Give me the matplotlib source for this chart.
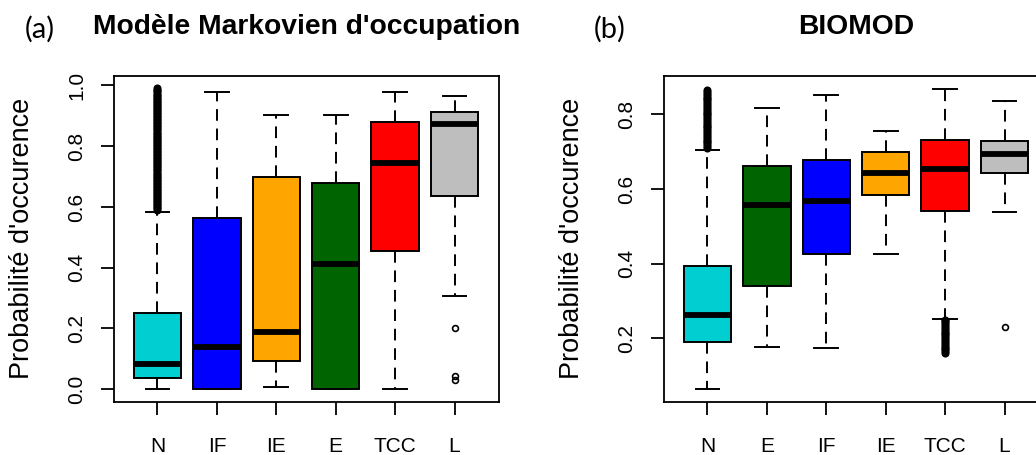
import matplotlib
matplotlib.use('Agg')
import matplotlib.pyplot as plt

# ---- data ----
cats_a = ['N', 'IF', 'IE', 'E', 'TCC', 'L']
q1_a = [0.037, 0.0, 0.092, 0.0, 0.455, 0.635]
med_a = [0.084, 0.139, 0.188, 0.413, 0.746, 0.872]
q3_a = [0.252, 0.563, 0.698, 0.678, 0.879, 0.912]
wlo_a = [0.0, 0.0, 0.008, 0.0, 0.0, 0.307]
whi_a = [0.585, 0.977, 0.904, 0.904, 0.977, 0.964]
out_a = [
    [0.590, 0.595, 0.600, 0.605, 0.610, 0.615, 0.620, 0.625, 0.630, 0.635,
     0.640, 0.645, 0.650, 0.655, 0.660, 0.665, 0.670, 0.675, 0.680, 0.685,
     0.690, 0.695, 0.700, 0.705, 0.710, 0.715, 0.720, 0.725, 0.730, 0.735,
     0.740, 0.745, 0.750, 0.755, 0.760, 0.765, 0.770, 0.775, 0.780, 0.785,
     0.790, 0.795, 0.800, 0.805, 0.810, 0.815, 0.820, 0.825, 0.830, 0.835,
     0.840, 0.845, 0.850, 0.855, 0.860, 0.865, 0.870, 0.875, 0.880, 0.885,
     0.890, 0.895, 0.900, 0.905, 0.910, 0.915, 0.920, 0.925, 0.930, 0.935,
     0.940, 0.945, 0.950, 0.955, 0.960, 0.965, 0.970, 0.975, 0.980, 0.985,
     0.990],
    [], [], [], [],
    [0.203, 0.045, 0.030],
]

cats_b = ['N', 'E', 'IF', 'IE', 'TCC', 'L']
q1_b = [0.191, 0.341, 0.426, 0.585, 0.540, 0.643]
med_b = [0.262, 0.557, 0.568, 0.643, 0.654, 0.694]
q3_b = [0.393, 0.661, 0.677, 0.700, 0.732, 0.729]
wlo_b = [0.064, 0.177, 0.173, 0.426, 0.252, 0.538]
whi_b = [0.704, 0.818, 0.852, 0.756, 0.869, 0.836]
out_b = [
    [0.710, 0.715, 0.720, 0.725, 0.730, 0.735, 0.740, 0.745, 0.750, 0.755,
     0.760, 0.765, 0.770, 0.775, 0.780, 0.785, 0.790, 0.795, 0.800, 0.805,
     0.810, 0.815, 0.820, 0.825, 0.830, 0.835, 0.840, 0.845, 0.850, 0.855,
     0.860, 0.865],
    [], [], [],
    [0.160, 0.165, 0.170, 0.175, 0.180, 0.185, 0.190, 0.195, 0.200, 0.205,
     0.210, 0.215, 0.220, 0.225, 0.230, 0.235, 0.240, 0.245, 0.250],
    [0.229],
]

colors_a = ['#00CED1', '#0000FF', '#FFA500', '#006400', '#FF0000', '#BEBEBE']
colors_b = ['#00CED1', '#006400', '#0000FF', '#FFA500', '#FF0000', '#BEBEBE']

W, H = 1036, 455
fig = plt.figure(figsize=(W / 100, H / 100), dpi=100)
plt.rcParams['font.family'] = ['Liberation Sans', 'DejaVu Sans']


def draw(ax, cats, q1, med, q3, wlo, whi, outs, colors, ylim, yticks):
    stats = []
    for i in range(len(cats)):
        stats.append(dict(label=cats[i], q1=q1[i], med=med[i], q3=q3[i],
                          whislo=wlo[i], whishi=whi[i], fliers=outs[i]))
    res = ax.bxp(stats, positions=range(1, len(cats) + 1), widths=0.8,
                 capwidths=0.4, patch_artist=True,
                 boxprops=dict(edgecolor='black', linewidth=1.4),
                 whiskerprops=dict(color='black', linewidth=1.4,
                                   linestyle=(0, (6, 4))),
                 capprops=dict(color='black', linewidth=1.4),
                 medianprops=dict(color='black', linewidth=4.2,
                                  solid_capstyle='butt'),
                 flierprops=dict(marker='o', markersize=4.2,
                                 markerfacecolor='none',
                                 markeredgecolor='black',
                                 markeredgewidth=1.2))
    for patch, c in zip(res['boxes'], colors):
        patch.set_facecolor(c)
    # many overlapping outliers merge into a solid bar
    for fl, o in zip(res['fliers'], outs):
        if len(o) > 5:
            fl.set_markerfacecolor('black')
            fl.set_markersize(4.6)
    ax.set_xlim(0.26, 6.74)
    ax.set_ylim(*ylim)
    ax.set_yticks(yticks)
    ax.set_yticklabels(['%.1f' % v for v in yticks], rotation=90,
                       va='center', fontsize=15)
    ax.set_xticks(range(1, len(cats) + 1))
    ax.set_xticklabels(cats, fontsize=15)
    ax.tick_params(axis='x', length=9.5, width=1.3, pad=16)
    ax.tick_params(axis='y', length=9.5, width=1.3, pad=10)
    for s in ax.spines.values():
        s.set_linewidth(1.3)


ax_a = fig.add_axes([113.5 / W, 53 / H, 385 / W, 326 / H])
draw(ax_a, cats_a, q1_a, med_a, q3_a, wlo_a, whi_a, out_a, colors_a,
     (-0.042, 1.031), [0.0, 0.2, 0.4, 0.6, 0.8, 1.0])

# right panel runs past the right edge of the figure, as in the reference
ax_b = fig.add_axes([663.5 / W, 53 / H, 385 / W, 326 / H])
draw(ax_b, cats_b, q1_b, med_b, q3_b, wlo_b, whi_b, out_b, colors_b,
     (0.029, 0.903), [0.2, 0.4, 0.6, 0.8])

# y labels
fig.text(22 / W, 1 - 238 / H, "Probabilité d'occurence", rotation=90,
         ha='center', va='center', fontsize=19.5)
fig.text(572 / W, 1 - 238 / H, "Probabilité d'occurence", rotation=90,
         ha='center', va='center', fontsize=19.5)

# titles
fig.text(307 / W, 1 - 27 / H, "Modèle Markovien d'occupation",
         ha='center', va='center', fontsize=20.3, fontweight='bold')
fig.text(856.5 / W, 1 - 27 / H, 'BIOMOD',
         ha='center', va='center', fontsize=20.3, fontweight='bold')
fig.text(40 / W, 1 - 29 / H, '(a)', ha='center', va='center', fontsize=21,
         family=['Lato', 'DejaVu Sans'])
fig.text(610 / W, 1 - 29 / H, '(b)', ha='center', va='center', fontsize=21,
         family=['Lato', 'DejaVu Sans'])

fig.savefig('out.png', dpi=100)
